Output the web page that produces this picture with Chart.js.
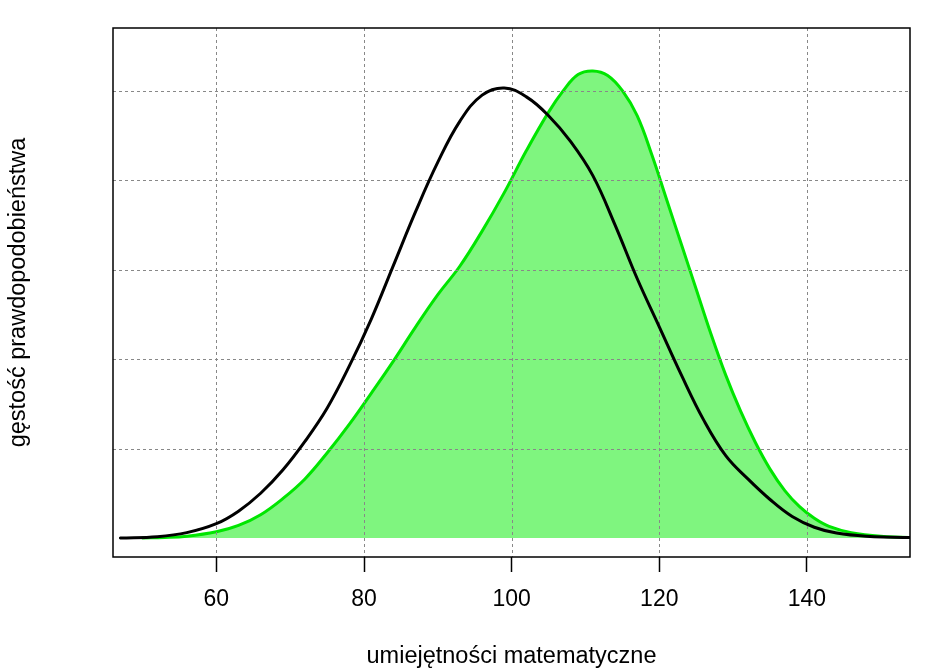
<!DOCTYPE html>
<html>
<head>
<meta charset="utf-8">
<script src="https://cdn.jsdelivr.net/npm/chart.js@4"></script>
<style>
  html, body { margin: 0; padding: 0; background: #fff; }
  #wrap { width: 939px; height: 671px; }
</style>
</head>
<body>
<div id="wrap"><canvas id="chart" width="939" height="671"></canvas></div>
<script>
// axis text
const xTitle = 'umiejętności matematyczne';
const yTitle = 'gęstość prawdopodobieństwa';
const xTicks = [60, 80, 100, 120, 140];
const yGrid = [1, 2, 3, 4, 5];

// density curves (y in grid units)
const blackX = [47, 52, 56, 60, 63, 66, 69, 72, 75, 78, 81, 84, 87, 90, 93, 96, 99, 102, 105, 108, 111, 114, 117, 120, 123, 126, 129, 132, 135, 138, 141, 144, 148, 156];
const blackY = [0, 0.015, 0.06, 0.16, 0.3, 0.5, 0.76, 1.08, 1.45, 1.92, 2.45, 3.05, 3.65, 4.2, 4.66, 4.95, 5.03, 4.93, 4.72, 4.43, 4.05, 3.5, 2.9, 2.36, 1.82, 1.32, 0.92, 0.66, 0.43, 0.24, 0.12, 0.055, 0.02, 0];
const greenX = [50, 53, 56, 60, 63, 66, 69, 72, 75, 78, 81, 84, 87, 90, 93, 96, 99, 102, 105, 107, 109, 111, 113, 115, 117, 119, 121, 123, 125, 127, 129, 131, 133, 135, 137, 139, 141, 143, 146, 150, 156];
const greenY = [0, 0.005, 0.02, 0.07, 0.14, 0.26, 0.44, 0.66, 0.95, 1.27, 1.62, 1.98, 2.36, 2.72, 3.04, 3.43, 3.86, 4.33, 4.76, 5.0, 5.18, 5.22, 5.17, 5.0, 4.72, 4.28, 3.78, 3.28, 2.78, 2.28, 1.82, 1.42, 1.07, 0.77, 0.53, 0.35, 0.22, 0.13, 0.06, 0.02, 0];

const FONT = '"Liberation Sans", Arial, Helvetica, sans-serif';
const pts = (xs, ys) => xs.map((x, i) => ({ x: x, y: ys[i] }));

// dotted grid drawn over the green area, box round the plot, titles
const rStyle = {
    id: 'rStyle',
    afterDatasetDraw(chart, args) {
        if (args.index !== 1) return;
        const { ctx, chartArea: a, scales: { x, y } } = chart;
        ctx.save();
        ctx.beginPath();
        ctx.rect(a.left, a.top, a.right - a.left, a.bottom - a.top);
        ctx.clip();
        ctx.strokeStyle = '#888';
        ctx.lineWidth = 1;
        ctx.setLineDash([3, 3]);
        ctx.beginPath();
        xTicks.forEach(v => { const p = Math.round(x.getPixelForValue(v)) + 0.5; ctx.moveTo(p, a.top); ctx.lineTo(p, a.bottom); });
        yGrid.forEach(v => { const p = Math.round(y.getPixelForValue(v)) + 0.5; ctx.moveTo(a.left, p); ctx.lineTo(a.right, p); });
        ctx.stroke();
        ctx.restore();
    },
    afterDraw(chart) {
        const { ctx, chartArea: a } = chart;
        ctx.save();
        ctx.strokeStyle = '#000';
        ctx.lineWidth = 1.5;
        ctx.strokeRect(a.left, a.top, a.right - a.left, a.bottom - a.top);
        ctx.fillStyle = '#000';
        ctx.font = '23.5px ' + FONT;
        ctx.textAlign = 'center';
        ctx.textBaseline = 'alphabetic';
        ctx.fillText(xTitle, (a.left + a.right) / 2, 663);
        ctx.translate(25, (a.top + a.bottom) / 2);
        ctx.rotate(-Math.PI / 2);
        ctx.fillText(yTitle, 0, 0);
        ctx.restore();
    }
};

new Chart(document.getElementById('chart'), {
    type: 'line',
    data: {
        datasets: [
            { data: pts(blackX, blackY), borderColor: '#000', borderWidth: 3, fill: false, order: 1 },
            { data: pts(greenX, greenY), borderColor: '#00e600', borderWidth: 3,
              backgroundColor: 'rgba(0,235,0,0.5)', fill: 'origin', order: 2 }
        ]
    },
    options: {
        responsive: false,
        animation: false,
        devicePixelRatio: 1,
        layout: { padding: { left: 0, top: 28, right: 29, bottom: 0 } },
        elements: {
            point: { radius: 0 },
            line: { tension: 0.4, borderCapStyle: 'round', borderJoinStyle: 'round' }
        },
        plugins: { legend: { display: false }, tooltip: { enabled: false } },
        scales: {
            x: {
                type: 'linear', min: 46, max: 153.96,
                afterBuildTicks: s => { s.ticks = xTicks.map(v => ({ value: v })); },
                afterFit: s => { s.height = 114; },
                grid: { drawOnChartArea: false, drawTicks: true, tickLength: 15, tickColor: '#000', tickWidth: 1.5 },
                border: { display: false },
                ticks: { color: '#000', font: { family: FONT, size: 23 }, padding: 14, maxRotation: 0 }
            },
            y: {
                type: 'linear', min: -0.2125, max: 5.70,
                afterFit: s => { s.width = 113; },
                grid: { display: false },
                border: { display: false },
                ticks: { display: false }
            }
        }
    },
    plugins: [rStyle]
});
</script>
</body>
</html>
